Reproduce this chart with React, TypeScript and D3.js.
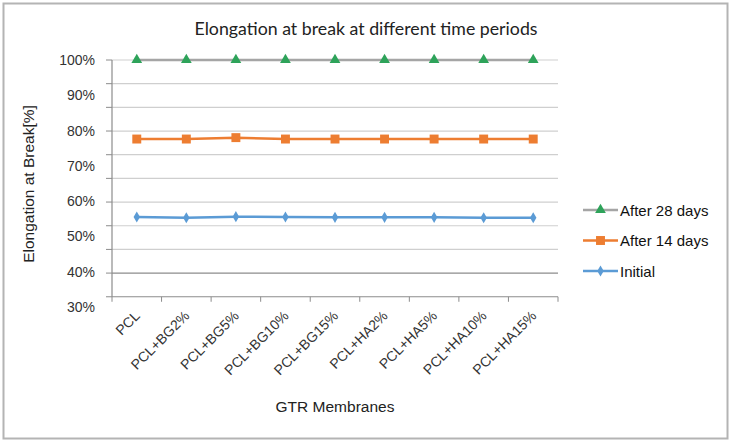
import React from "react";
import * as d3 from "d3";

const categories = ["PCL", "PCL+BG2%", "PCL+BG5%", "PCL+BG10%", "PCL+BG15%", "PCL+HA2%", "PCL+HA5%", "PCL+HA10%", "PCL+HA15%"];
const after28 = [100, 100, 100, 100, 100, 100, 100, 100, 100];
const after14 = [77.6, 77.6, 78.0, 77.6, 77.6, 77.6, 77.6, 77.6, 77.6];
const initial = [55.5, 55.3, 55.6, 55.5, 55.4, 55.4, 55.4, 55.3, 55.3];
const yTickLabels = [100, 90, 80, 70, 60, 50, 40, 30];
const gridCount = 10;
const gridStep = 6.71;
const darkGridIndex = 9;

const W = 732, H = 444;
const M = { left: 112, right: 558, top: 60, bottom: 307 };

const x = d3.scaleBand<string>().domain(categories).range([M.left, M.right]).padding(0);
const y = d3.scaleLinear().domain([30, 100]).range([M.bottom, M.top]);
const gridVals = d3.range(0, gridCount + 1).map((i) => 100 - i * gridStep);
const axisVal = gridVals[gridVals.length - 1];

const series = [
  { name: "Initial", values: initial, color: "#5b9bd5", marker: "diamond", mcolor: "#5b9bd5" },
  { name: "After 14 days", values: after14, color: "#ed7d31", marker: "square", mcolor: "#ed7d31" },
  { name: "After 28 days", values: after28, color: "#a5a5a5", marker: "triangle", mcolor: "#2ea35a" },
];
const legendOrder = ["After 28 days", "After 14 days", "Initial"];

const symType: Record<string, d3.SymbolType> = {
  diamond: d3.symbolDiamond,
  square: d3.symbolSquare,
  triangle: d3.symbolTriangle,
};
const symSize: Record<string, number> = { diamond: 36, square: 80, triangle: 50 };

function Marker({ kind, color, cx, cy }: { kind: string; color: string; cx: number; cy: number }) {
  const path = d3.symbol().type(symType[kind]).size(symSize[kind])() || "";
  return <path d={path} transform={`translate(${cx},${cy})`} fill={color} />;
}

export default function App() {
  const cx = (c: string) => (x(c) || 0) + x.bandwidth() / 2;
  const line = d3
    .line<number>()
    .x((_, i) => cx(categories[i]))
    .y((v) => y(v));
  const axisY = y(axisVal);
  const arial = "'Liberation Sans', Arial, sans-serif";
  return (
    <svg width={W} height={H} style={{ position: "absolute", left: 0, top: 0, background: "#fff" }}>
      <rect x={3.5} y={3.5} width={724} height={435} fill="#fff" stroke="#b4b4b4" strokeWidth={2} />
      <text x={366} y={35} textAnchor="middle" fontFamily="Lato, 'Open Sans', sans-serif" fontSize={16.5} fill="#222" textLength={343} lengthAdjust="spacingAndGlyphs">
        Elongation at break at different time periods
      </text>
      {gridVals.map((v, i) => (
        <g key={i}>
          <line x1={M.left} x2={M.right} y1={y(v)} y2={y(v)} stroke={i === darkGridIndex || i === gridCount ? "#8c8c8c" : "#cfcfcf"} strokeWidth={1.2} />
          <line x1={M.left - 6} x2={M.left} y1={y(v)} y2={y(v)} stroke="#8c8c8c" strokeWidth={1} />
        </g>
      ))}
      <line x1={M.left} x2={M.left} y1={M.top} y2={axisY} stroke="#8c8c8c" strokeWidth={1.2} />
      {categories.map((c) => (
        <line key={c} x1={x(c)} x2={x(c)} y1={axisY} y2={axisY + 5} stroke="#8c8c8c" strokeWidth={1} />
      ))}
      <line x1={M.right} x2={M.right} y1={axisY} y2={axisY + 5} stroke="#8c8c8c" strokeWidth={1} />
      {yTickLabels.map((v) => (
        <text key={v} x={95} y={y(v) + 5} textAnchor="end" fontFamily={arial} fontSize={14} fill="#333">
          {v}%
        </text>
      ))}
      {categories.map((c) => (
        <text key={c} transform={`translate(${cx(c) + 4},${axisY + 20}) rotate(-45)`} textAnchor="end" fontFamily={arial} fontSize={14} fill="#333">
          {c}
        </text>
      ))}
      <text x={(M.left + M.right) / 2} y={412} textAnchor="middle" fontFamily={arial} fontSize={15.5} fill="#222">
        GTR Membranes
      </text>
      <text transform={`translate(34,184) rotate(-90)`} textAnchor="middle" fontFamily={arial} fontSize={15.5} fill="#222">
        Elongation at Break[%]
      </text>
      {series.map((s) => (
        <g key={s.name}>
          <path d={line(s.values) || ""} fill="none" stroke={s.color} strokeWidth={2.5} />
          {s.values.map((v, i) => (
            <Marker key={i} kind={s.marker} color={s.mcolor} cx={cx(categories[i])} cy={y(v)} />
          ))}
        </g>
      ))}
      {legendOrder.map((name, i) => {
        const s = series.find((d) => d.name === name)!;
        const ly = 210 + i * 30.5;
        return (
          <g key={name}>
            <line x1={583} x2={618} y1={ly} y2={ly} stroke={s.color} strokeWidth={2.5} />
            <Marker kind={s.marker} color={s.mcolor} cx={600.5} cy={ly} />
            <text x={620} y={ly + 5.5} fontFamily={arial} fontSize={15} fill="#111">
              {name}
            </text>
          </g>
        );
      })}
    </svg>
  );
}
